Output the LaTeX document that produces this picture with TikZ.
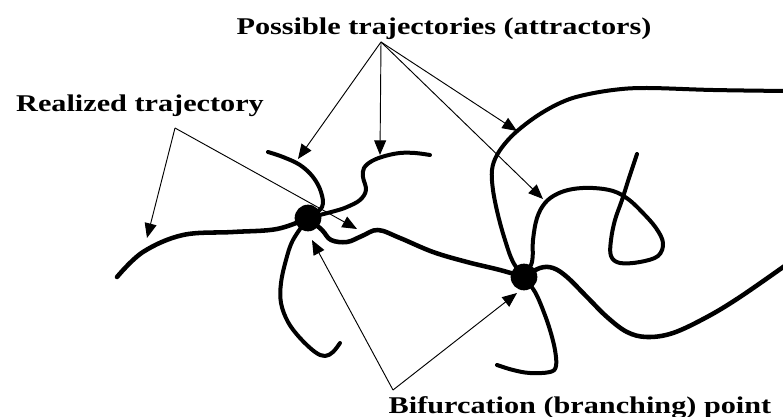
\documentclass[tikz,border=0pt]{standalone}
\usepackage{fontspec}
\setmainfont{Liberation Serif}
\usetikzlibrary{arrows.meta}

\begin{document}
\begin{tikzpicture}[x=0.75pt,y=-0.75pt,
  lbl/.style={font=\bfseries\fontsize{18}{20}\selectfont,xscale=1.26,inner sep=0pt,anchor=base},
  traj/.style={line width=3pt,line cap=round,line join=round},
  ptr/.style={line width=0.7pt,-{Triangle[length=11pt,width=9pt]}},
  dot/.style={draw=none,fill,circle,minimum size=20pt,inner sep=0pt}]
\useasboundingbox (0,0) rectangle (783,417);
% labels
\node[lbl] (poss) at (444,35) {Possible trajectories (attractors)};
\node[lbl] (real) at (140,112) {Realized trajectory};
\node[lbl] (bif) at (580,413) {Bifurcation (branching) point};
\coordinate (p0) at (381,42);
\coordinate (r0) at (175,128);
\coordinate (q0) at (393,390);
% bifurcation points
\node[dot] (b1) at (308,218) {};
\node[dot] (b2) at (524,277) {};
% realized trajectory
\draw[traj,line width=3.4pt] plot[smooth,tension=0.6] coordinates {(117,277) (143,252) (183,235) (233,232) (277,229) (b1)};
\draw[traj,line width=3.4pt] plot[smooth,tension=0.6] coordinates {(b1) (322,230) (331,240) (347,242) (362,236) (378,230) (400,238) (433,252) (467,262) (500,270) (b2)};
\draw[traj,line width=3.4pt] plot[smooth,tension=0.6] coordinates {(b2) (540,268) (553,268) (567,277) (587,297) (607,317) (627,332) (647,337) (673,333) (707,317) (740,297) (786,265)};
% attractors at the first point
\draw[traj] plot[smooth,tension=0.6] coordinates {(268,152) (283,157) (300,165) (313,177) (321,192) (322,207) (b1)};
\draw[traj] plot[smooth,tension=0.6] coordinates {(b1) (335,211) (347,207) (360,200) (366,190) (363,177) (364,168) (372,161) (385,156) (400,153) (415,153) (430,155)};
\draw[traj] plot[smooth,tension=0.6] coordinates {(b1) (293,240) (286,260) (281,283) (281,303) (288,322) (300,338) (315,352) (325,356) (333,352) (340,343)};
% attractors at the second point
\draw[traj] plot[smooth,tension=0.6] coordinates {(b2) (513,262) (505,240) (498,215) (493,190) (492,170) (497,155) (508,140) (522,127) (540,114) (560,103) (580,96) (613,90) (647,88) (713,90) (786,91)};
\draw[traj] plot[smooth,tension=0.6] coordinates {(b2) (532,262) (533,240) (537,218) (545,203) (557,194) (573,189) (593,188) (613,191) (628,199) (642,212) (656,228) (663,243) (658,256) (640,262) (620,263) (611,256) (611,240) (615,220) (622,200) (629,178) (637,154)};
\draw[traj] plot[smooth,tension=0.6] coordinates {(b2) (535,292) (543,310) (550,330) (555,350) (556,366) (550,372) (530,373) (513,370) (497,365)};
% pointers
\draw[ptr] (p0) -- (298,159);
\draw[ptr] (p0) -- (380,155);
\draw[ptr] (p0) -- (517,131);
\draw[ptr] (p0) -- (543,199);
\draw[ptr] (r0) -- (147,238);
\draw[ptr] (r0) -- (357,229);
\draw[ptr] (q0) -- (312,240);
\draw[ptr] (q0) -- (517,293);
\end{tikzpicture}
\end{document}
